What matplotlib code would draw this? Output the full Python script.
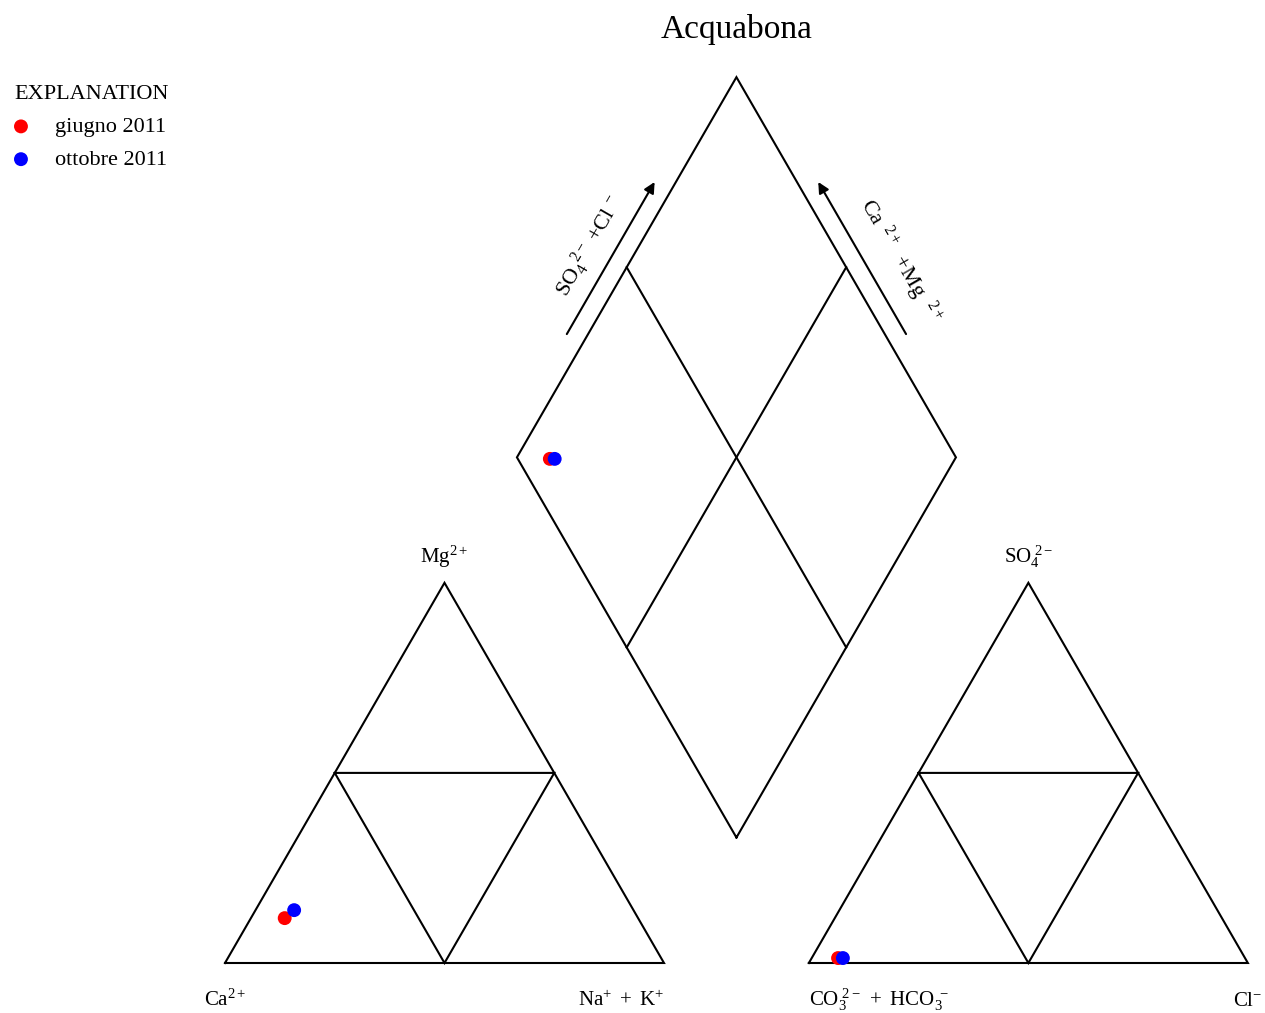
import numpy as np
import matplotlib
matplotlib.use("Agg")
import matplotlib.pyplot as plt

plt.rcParams['font.family'] = ['Liberation Serif', 'DejaVu Serif']
plt.rcParams['mathtext.fontset'] = 'custom'
plt.rcParams['mathtext.rm'] = 'Liberation Serif'
plt.rcParams['mathtext.it'] = 'Liberation Serif:italic'
plt.rcParams['mathtext.bf'] = 'Liberation Serif:bold'

# Sample chemistry, percent of meq/L
samples = ['giugno 2011', 'ottobre 2011']
colors = ['#ff0000', '#0000ff']
ca = [80.5, 77.3]
mg = [11.8, 13.9]
na_k = [7.7, 8.8]
hco3 = [92.7, 91.6]
so4 = [1.3, 1.3]
cl = [6.0, 7.1]

h = np.sqrt(3) / 2
gap = 0.33                      # spacing between the two triangles
bx, by = 1 + gap / 2, gap / 2 * np.sqrt(3)   # bottom vertex of the diamond
ox = 1 + gap                    # x offset of the anion triangle


def cation_xy(ca_, mg_, na_):
    t = ca_ + mg_ + na_
    return na_ / t + 0.5 * mg_ / t, h * mg_ / t


def anion_xy(hco3_, so4_, cl_):
    t = hco3_ + so4_ + cl_
    return ox + cl_ / t + 0.5 * so4_ / t, h * so4_ / t


def diamond_xy(ca_, mg_, na_, hco3_, so4_, cl_):
    a = (ca_ + mg_) / (ca_ + mg_ + na_)
    c = (so4_ + cl_) / (hco3_ + so4_ + cl_)
    return bx + 0.5 * (c - a), by + h * (a + c)


fig = plt.figure(figsize=(12.65, 10.13), dpi=100)
ax = fig.add_axes([0, 0, 1, 1])
ax.set_xlim(-0.5125, 2.369)
ax.set_ylim(-0.1139, 2.1936)
ax.set_aspect('equal')
ax.axis('off')

lw = 1.5
kw = dict(color='black', lw=lw, solid_joinstyle='miter')

# triangles with their mid-point subdivisions
for x0 in (0, ox):
    ax.plot([x0, x0 + 1, x0 + 0.5, x0], [0, 0, h, 0], **kw)
    ax.plot([x0 + 0.25, x0 + 0.75, x0 + 0.5, x0 + 0.25], [h / 2, h / 2, 0, h / 2], **kw)

# diamond
L = (bx - 0.5, by + h)
R = (bx + 0.5, by + h)
T = (bx, by + 2 * h)
B = (bx, by)
ax.plot([B[0], L[0], T[0], R[0], B[0]], [B[1], L[1], T[1], R[1], B[1]], **kw)
ax.plot([bx - 0.25, bx + 0.25], [by + h / 2, by + 1.5 * h], **kw)
ax.plot([bx + 0.25, bx - 0.25], [by + h / 2, by + 1.5 * h], **kw)

# arrows along the upper edges of the diamond
def edge_point(p0, p1, t, off, normal):
    return (p0[0] + t * (p1[0] - p0[0]) + off * normal[0],
            p0[1] + t * (p1[1] - p0[1]) + off * normal[1])

nl = (-h, 0.5)
nr = (h, 0.5)
aprops = dict(arrowstyle='-|>', color='black', lw=lw, mutation_scale=16, shrinkA=0, shrinkB=0)
ax.annotate('', xy=edge_point(L, T, 0.70, 0.042, nl), xytext=edge_point(L, T, 0.30, 0.042, nl),
            arrowprops=aprops)
ax.annotate('', xy=edge_point(R, T, 0.70, 0.042, nr), xytext=edge_point(R, T, 0.30, 0.042, nr),
            arrowprops=aprops)

lx, ly = edge_point(L, T, 0.50, 0.097, nl)
ax.text(lx, ly, r'$\mathrm{SO}_4^{\ \ 2-}\ \mathrm{+Cl}^{\ -}$', rotation=60, rotation_mode='anchor',
        ha='center', va='center', fontsize=16)
rx, ry = edge_point(R, T, 0.45, 0.113, nr)
ax.text(rx, ry, r'$\mathrm{Ca}^{\ \ 2+}\ \ \mathrm{+Mg}^{\ \ \ 2+}$', rotation=-60, rotation_mode='anchor',
        ha='center', va='center', fontsize=16)

# corner labels
lab = dict(fontsize=15, va='baseline')
ax.text(0, -0.098, r'$\mathrm{Ca}^{2+}$', ha='center', **lab)
ax.text(1.0, -0.098, r'$\mathrm{Na}^{+}\mathrm{\ +\ K}^{+}$', ha='right', **lab)
ax.text(0.5, h + 0.045, r'$\mathrm{Mg}^{2+}$', ha='center', **lab)
ax.text(ox, -0.098, r'$\mathrm{CO}_3^{\ 2-}\mathrm{\ +\ HCO}_3^{\ -}$', ha='left', **lab)
ax.text(ox + 1.0, -0.098, r'$\mathrm{Cl}^{-}$', ha='center', **lab)
ax.text(ox + 0.5, h + 0.045, r'$\mathrm{SO}_4^{\ 2-}$', ha='center', **lab)

# sample points
for i, name in enumerate(samples):
    pts = [cation_xy(ca[i], mg[i], na_k[i]),
           anion_xy(hco3[i], so4[i], cl[i]),
           diamond_xy(ca[i], mg[i], na_k[i], hco3[i], so4[i], cl[i])]
    xs, ys = zip(*pts)
    ax.scatter(xs, ys, s=100, color=colors[i], edgecolors='none', zorder=5, label=name)

ax.text(bx, 2.127, 'Acquabona', ha='center', va='center', fontsize=24)

leg = ax.legend(title='EXPLANATION', loc='upper left', bbox_to_anchor=(-0.001, 0.931),
                bbox_transform=fig.transFigure, frameon=False, fontsize=16, title_fontsize=16,
                handlelength=0.6, handletextpad=1.25, labelspacing=0.55, borderpad=0.7,
                borderaxespad=0, alignment='left', scatterpoints=1)

fig.savefig('out.png', dpi=100)
